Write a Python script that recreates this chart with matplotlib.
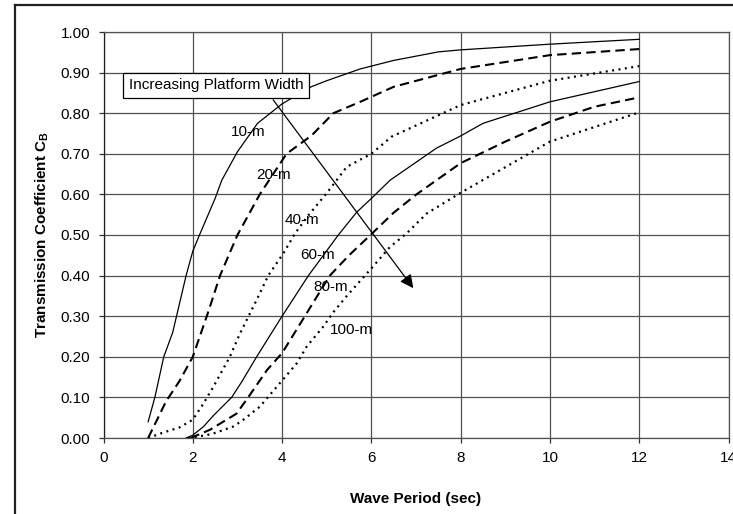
import matplotlib
matplotlib.use("Agg")
import matplotlib.pyplot as plt
from matplotlib.lines import Line2D

plt.rcParams["font.family"] = ["Liberation Sans", "DejaVu Sans"]
plt.rcParams["mathtext.fontset"] = "custom"
plt.rcParams["mathtext.rm"] = "Liberation Sans"
plt.rcParams["mathtext.bf"] = "Liberation Sans:bold"

# wave period (sec) and transmission coefficient per platform width
p10 = [1.0, 1.15, 1.35, 1.55, 1.85, 2.0, 2.15, 2.5, 2.65, 3.0, 3.45, 4.0, 4.65, 5.0, 5.75, 6.5, 7.5, 8.0, 10.0, 12.0]
c10 = [0.04, 0.10, 0.20, 0.26, 0.40, 0.46, 0.50, 0.59, 0.635, 0.705, 0.775, 0.823, 0.865, 0.88, 0.909, 0.93, 0.951, 0.956, 0.97, 0.982]

p20 = [1.0, 1.4, 1.7, 2.0, 2.36, 2.61, 3.0, 3.5, 3.8, 4.1, 4.66, 5.15, 5.75, 6.5, 8.0, 10.0, 12.0]
c20 = [0.0, 0.09, 0.14, 0.20, 0.315, 0.40, 0.50, 0.60, 0.65, 0.70, 0.745, 0.80, 0.828, 0.865, 0.909, 0.943, 0.958]

p40 = [1.0, 1.3, 1.7, 2.0, 2.24, 2.46, 2.83, 3.06, 3.43, 3.69, 4.03, 4.29, 4.6, 5.0, 5.45, 6.0, 6.45, 8.0, 10.0, 12.0]
c40 = [0.0, 0.012, 0.026, 0.045, 0.085, 0.126, 0.20, 0.258, 0.34, 0.40, 0.455, 0.504, 0.55, 0.603, 0.668, 0.70, 0.742, 0.82, 0.88, 0.916]

p60 = [1.85, 2.0, 2.24, 2.46, 2.87, 3.1, 3.43, 4.0, 4.59, 5.26, 5.67, 6.0, 6.42, 7.46, 8.0, 8.5, 10.0, 12.0]
c60 = [0.0, 0.007, 0.028, 0.055, 0.10, 0.139, 0.20, 0.30, 0.40, 0.50, 0.556, 0.59, 0.635, 0.714, 0.744, 0.775, 0.828, 0.878]

p80 = [1.95, 2.38, 2.68, 2.98, 3.24, 3.66, 4.0, 4.51, 5.07, 5.5, 5.98, 6.5, 7.01, 8.0, 9.0, 10.0, 11.0, 12.0]
c80 = [0.0, 0.02, 0.04, 0.06, 0.10, 0.167, 0.209, 0.30, 0.40, 0.45, 0.50, 0.555, 0.60, 0.677, 0.73, 0.779, 0.816, 0.839]

p100 = [1.9, 2.3, 2.46, 2.9, 3.1, 3.5, 3.95, 4.33, 4.55, 4.92, 5.15, 5.45, 5.97, 6.42, 6.79, 7.24, 8.0, 10.0, 12.0]
c100 = [0.0, 0.007, 0.011, 0.028, 0.042, 0.077, 0.135, 0.184, 0.225, 0.274, 0.31, 0.35, 0.414, 0.471, 0.504, 0.553, 0.604, 0.73, 0.802]

curve_names = ["10-m", "20-m", "40-m", "60-m", "80-m", "100-m"]
label_pos = [(3.24, 0.754), (3.82, 0.648), (4.44, 0.537), (4.79, 0.451), (5.09, 0.373), (5.55, 0.266)]

solid = dict(color="black", lw=0.9, linestyle="-")
dashed = dict(color="black", lw=1.5, linestyle=(0, (4.5, 2.5)))
dotted = dict(color="black", lw=1.6, linestyle=(0, (0.9, 2.0)))

fig = plt.figure(figsize=(7.33, 5.14), dpi=100)
ax = fig.add_axes([103.5 / 733, 1 - 438 / 514, 625 / 733, 406 / 514])

series = [(p10, c10, solid), (p20, c20, dashed), (p40, c40, dotted),
          (p60, c60, solid), (p80, c80, dashed), (p100, c100, dotted)]
for (px, cy, style), name, (tx, ty) in zip(series, curve_names, label_pos):
    ax.plot(px, cy, zorder=3, **style)
    ax.text(tx, ty, name, ha="center", va="center", fontsize=11, zorder=4)

ax.annotate("", xy=(6.94, 0.369), xytext=(3.80, 0.833),
            arrowprops=dict(arrowstyle="-|>", color="black", lw=0.9,
                            mutation_scale=20, shrinkA=0, shrinkB=0),
            zorder=5)
ax.text(2.52, 0.869, "Increasing Platform Width", ha="center", va="center",
        fontsize=11, zorder=6,
        bbox=dict(boxstyle="square,pad=0.35", fc="white", ec="black", lw=0.9))

ax.set_xlim(0, 14)
ax.set_ylim(0, 1)
ax.set_xticks(range(0, 15, 2))
ax.set_yticks([i / 10 for i in range(11)])
ax.set_yticklabels([f"{i / 10:.2f}" for i in range(11)])
ax.grid(True, color="#505050", lw=0.9)
ax.set_axisbelow(True)
for side in ["top", "right", "bottom"]:
    ax.spines[side].set_color("#505050")
    ax.spines[side].set_linewidth(0.9)
ax.spines["left"].set_color("#202020")
ax.spines["left"].set_linewidth(0.9)
ax.tick_params(direction="out", length=3.6, width=0.9, color="#303030",
               labelsize=11, pad=6)

ax.set_xlabel("Wave Period (sec)", fontsize=11, fontweight="bold", labelpad=19)
ax.set_ylabel(r"Transmission Coefficient C$_\mathbf{B}$", fontsize=11,
              fontweight="bold", labelpad=7)

# outer chart frame (only top and left edges visible)
fig.add_artist(Line2D([15 / 733, 1], [1 - 5 / 514, 1 - 5 / 514],
                      transform=fig.transFigure, color="#202020", lw=1.6))
fig.add_artist(Line2D([15 / 733, 15 / 733], [0, 1 - 5 / 514],
                      transform=fig.transFigure, color="#202020", lw=1.6))

fig.savefig("out.png", dpi=100)
